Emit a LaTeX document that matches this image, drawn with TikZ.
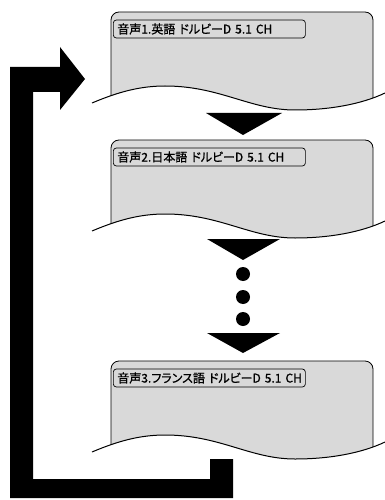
\documentclass[tikz,border=0pt]{standalone}
\usepackage{fontspec}
\setmainfont{Noto Sans CJK JP}[RawFeature=+palt,FakeBold=1,WordSpace=1.5]
\usetikzlibrary{positioning}
\definecolor{screenGray}{HTML}{D9D9D9}

% one screen: #1 = top y, #2 = node name, #3 = label
\newcommand{\drawscreen}[3]{%
  \begin{scope}[yshift=-#1pt]
    \begin{scope}
      \clip (92,103) .. controls (118,92) and (140,86) .. (165,86)
        .. controls (220,86) and (250,110) .. (295,110)
        .. controls (330,110) and (362,104) .. (385,93) -- (385,-5) -- (92,-5) -- cycle;
      \draw[screen] (111,130) -- (111,12) -- (373,12) -- (373,130) -- cycle;
    \end{scope}
    \draw[wave] (92,103) .. controls (118,92) and (140,86) .. (165,86)
      .. controls (220,86) and (250,110) .. (295,110)
      .. controls (330,110) and (362,104) .. (385,93);
    \node[tag] (#2) at (113,29) {\makebox[184pt][l]{#3}};
  \end{scope}}

\begin{document}
\begin{tikzpicture}[x=1pt,y=-1pt,
    screen/.style={draw=black,fill=screenGray,rounded corners=8pt,line width=0.8pt},
    wave/.style={draw=black,line width=1pt},
    tag/.style={draw=black,rounded corners=3pt,anchor=west,minimum height=18pt,
      inner xsep=4pt,inner ysep=0pt,line width=0.7pt,
      font=\fontsize{12}{14}\selectfont},
    blk/.style={fill=black,draw=none}]
  \useasboundingbox (0,0) rectangle (385,500);

  \drawscreen{0}{eng}{音声1.英語 ドルビーD 5.1 CH}
  \drawscreen{128}{jpn}{音声2.日本語 ドルビーD 5.1 CH}
  \drawscreen{349}{fra}{音声3.フランス語 ドルビーD 5.1 CH}

  % down arrows and dots
  \fill[blk] (206,113) -- (282,113) -- (243,135) -- cycle;
  \fill[blk] (207,239) -- (280,239) -- (243,260) -- cycle;
  \foreach \y in {274,297,319}
    \fill[blk] (243,\y) circle[radius=7];
  \fill[blk] (207,333) -- (280,333) -- (243,353) -- cycle;

  % return arrow
  \fill[blk] (10,498) -- (233,498) -- (233,459) -- (210,459) -- (210,479)
    -- (33,479) -- (33,92) -- (60,92) -- (60,110) -- (85,79) -- (60,47)
    -- (60,67) -- (10,67) -- cycle;
\end{tikzpicture}
\end{document}
